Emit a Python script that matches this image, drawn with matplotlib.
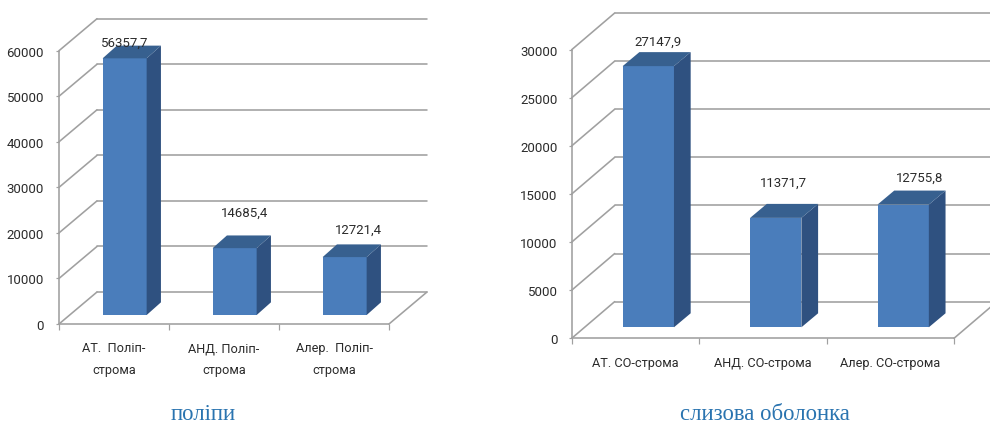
import matplotlib
matplotlib.use("Agg")
import matplotlib.pyplot as plt
from matplotlib.patches import Polygon

plt.rcParams['font.family'] = ['Roboto', 'DejaVu Sans']

W, H = 990, 427
PT = 0.72

left_categories = ["АТ.  Поліп-\nстрома", "АНД. Поліп-\nстрома", "Алер.  Поліп-\nстрома"]
left_values = [56357.7, 14685.4, 12721.4]
left_labels = ["56357,7", "14685,4", "12721,4"]
left_ticks = [0, 10000, 20000, 30000, 40000, 50000, 60000]
left_title = "поліпи"

right_categories = ["АТ. СО-строма", "АНД. СО-строма", "Алер. СО-строма"]
right_values = [27147.9, 11371.7, 12755.8]
right_labels = ["27147,9", "11371,7", "12755,8"]
right_ticks = [0, 5000, 10000, 15000, 20000, 25000, 30000]
right_title = "слизова оболонка"

GRID = '#a0a0a0'
FRONT = '#4a7dbb'
SIDE = '#2f5180'
TOP = '#37608f'
TEXT = '#2b2b2b'
TITLE = '#2a74b0'


def chart(fig, box, depth_px, bar_px, side_px, base_frac, cats, vals, labs, ticks,
          title, title_x, label_off, label_pad):
    x0, x1, ytop, ybot = box
    ax = fig.add_axes([x0 / W, 1 - ybot / H, (x1 - x0) / W, (ybot - ytop) / H])
    n = len(cats)
    ax.set_xlim(0, n)
    ax.set_ylim(ticks[0], ticks[-1])
    ax.patch.set_alpha(0)
    for s in ax.spines.values():
        s.set_visible(False)

    ux = n / (x1 - x0)                 # category units per pixel
    uy = (ticks[-1] - ticks[0]) / (ybot - ytop)  # value units per pixel
    dx, dy = depth_px[0] * ux, depth_px[1] * uy
    g = dict(color=GRID, lw=1.6 * PT, clip_on=False, zorder=1, solid_capstyle='round')

    # walls: back grid, left-wall diagonals, left axis, floor
    for t in ticks:
        ax.plot([0, dx], [t, t + dy], **g)
        ax.plot([dx, n + dx], [t + dy, t + dy], **g)
    ax.plot([0, 0], [ticks[0], ticks[-1]], **g)
    ax.plot([0, n], [0, 0], **g)
    ax.plot([n, n + dx], [0, dy], **g)

    # bars
    sx, sy = side_px[0] * ux, side_px[1] * uy
    bw = bar_px * ux
    bx0 = base_frac * dx
    by0 = base_frac * dy
    for i, v in enumerate(vals):
        c = i + 0.5 + bx0
        l, r = c - bw / 2, c + bw / 2
        t = by0 + v
        ax.bar(c, v, width=bw, bottom=by0, color=FRONT, zorder=3, clip_on=False)
        ax.add_patch(Polygon([(r, by0), (r + sx, by0 + sy), (r + sx, t + sy), (r, t)],
                             closed=True, fc=SIDE, ec='none', zorder=3, clip_on=False))
        ax.add_patch(Polygon([(l, t), (l + sx, t + sy), (r + sx, t + sy), (r, t)],
                             closed=True, fc=TOP, ec='none', zorder=3, clip_on=False))
        ax.annotate(labs[i], (c, t), xytext=(label_off[i][0] * PT, label_off[i][1] * PT),
                    textcoords='offset points', ha='center', va='center',
                    fontsize=9.5, color=TEXT, zorder=5, annotation_clip=False)

    # ticks and tick labels
    ax.set_yticks(ticks)
    ax.set_yticklabels([str(t) for t in ticks])
    ax.tick_params(axis='y', length=3 * PT, width=1.2 * PT, color=GRID,
                   labelsize=9.5, labelcolor=TEXT, pad=label_pad * PT)
    ax.set_xticks(range(n + 1))
    ax.set_xticklabels([])
    ax.tick_params(axis='x', which='major', length=6 * PT, width=1.2 * PT, color=GRID)
    ax.set_xticks([i + 0.5 for i in range(n)], minor=True)
    ax.set_xticklabels(cats, minor=True, fontsize=9.2, color=TEXT, linespacing=1.9)
    ax.tick_params(axis='x', which='minor', length=0, pad=17.5 * PT)

    fig.text(title_x / W, 1 - 415 / H, title, ha='center', va='center', color=TITLE,
             fontsize=16.4, family='Liberation Serif')


fig = plt.figure(figsize=(W / 100, H / 100), dpi=100, facecolor='white')

chart(fig, (59, 389, 51.7, 325), (38, 32), 44, (14.3, 12.7), 0.28,
      left_categories, left_values, left_labels, left_ticks, left_title, 203,
      [(0, 16), (10, 36), (14, 28)], 12)

chart(fig, (571.7, 954, 50.7, 339.3), (43, 36.7), 51.3, (16.7, 14), 0.3,
      right_categories, right_values, right_labels, right_ticks, right_title, 765,
      [(10, 25), (8, 36), (16, 27)], 11)

fig.savefig('out.png', dpi=100)
